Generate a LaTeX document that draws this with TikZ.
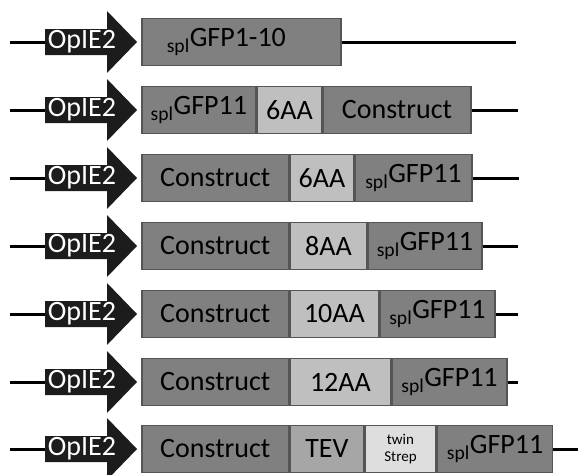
\documentclass[tikz,border=0pt]{standalone}
\usepackage{fontspec}
\setmainfont{Carlito}
\usetikzlibrary{positioning}

\definecolor{promfill}{HTML}{1C1C1C}
\definecolor{boxedge}{HTML}{555555}
\definecolor{gfpfill}{HTML}{808080}
\definecolor{linkfill}{HTML}{BFBFBF}
\definecolor{tevfill}{HTML}{A6A6A6}
\definecolor{strepfill}{HTML}{DEDEDE}

\begin{document}
\begin{tikzpicture}[x=1pt, y=-1pt,
    dna/.style={line width=3pt, black},
    part/.style={draw=boxedge, line width=1.6pt, minimum height=47pt, inner sep=0pt, text=black, font=\fontsize{28}{30}\selectfont},
    gfp/.style={part, fill=gfpfill},
    linker/.style={part, fill=linkfill},
    promtext/.style={text=white, inner sep=0pt, font=\fontsize{28}{30}\selectfont}]
\useasboundingbox (0,0) rectangle (578,474);

% row 1: splGFP1-10
\fill[promfill] (45,29) -- (107,29) -- (107,11) -- (137,42) -- (107,73) -- (107,55) -- (45,55) -- cycle;
\node[promtext] (p1) at (82,42) {OpIE2};
\coordinate (s1) at (10,42);
\coordinate (t1) at (45,42);
\coordinate (e1) at (516,42);
\node[gfp, anchor=west, text width=149pt, inner xsep=25pt, align=left] (r1a) at (141,42) {\textsubscript{spl}GFP1-10};
\draw[dna] (s1) -- (t1);
\draw[dna] (r1a) -- (e1);

% row 2: splGFP11 - 6AA - Construct
\fill[promfill] (45,97) -- (107,97) -- (107,79) -- (137,110) -- (107,141) -- (107,123) -- (45,123) -- cycle;
\node[promtext] (p2) at (82,110) {OpIE2};
\coordinate (s2) at (10,110);
\coordinate (t2) at (45,110);
\coordinate (e2) at (518,110);
\node[gfp, anchor=west, minimum width=114pt] (r2a) at (141,110) {\textsubscript{spl}GFP11};
\node[linker, minimum width=64pt, right=0pt of r2a] (r2b) {6AA};
\node[gfp, minimum width=148pt, right=0pt of r2b] (r2c) {Construct};
\draw[dna] (s2) -- (t2);
\draw[dna] (r2c) -- (e2);

% row 3: Construct - 6AA - splGFP11
\fill[promfill] (45,165) -- (107,165) -- (107,147) -- (137,178) -- (107,209) -- (107,191) -- (45,191) -- cycle;
\node[promtext] (p3) at (82,178) {OpIE2};
\coordinate (s3) at (10,178);
\coordinate (t3) at (45,178);
\coordinate (e3) at (519,178);
\node[gfp, anchor=west, minimum width=147pt] (r3a) at (141,178) {Construct};
\node[linker, minimum width=63pt, right=0pt of r3a] (r3b) {6AA};
\node[gfp, minimum width=117pt, right=0pt of r3b] (r3c) {\textsubscript{spl}GFP11};
\draw[dna] (s3) -- (t3);
\draw[dna] (r3c) -- (e3);

% row 4: Construct - 8AA - splGFP11
\fill[promfill] (45,233) -- (107,233) -- (107,215) -- (137,246) -- (107,277) -- (107,259) -- (45,259) -- cycle;
\node[promtext] (p4) at (82,246) {OpIE2};
\coordinate (s4) at (10,246);
\coordinate (t4) at (45,246);
\coordinate (e4) at (518,246);
\node[gfp, anchor=west, minimum width=147pt] (r4a) at (141,246) {Construct};
\node[linker, minimum width=76pt, right=0pt of r4a] (r4b) {8AA};
\node[gfp, minimum width=114pt, right=0pt of r4b] (r4c) {\textsubscript{spl}GFP11};
\draw[dna] (s4) -- (t4);
\draw[dna] (r4c) -- (e4);

% row 5: Construct - 10AA - splGFP11
\fill[promfill] (45,301) -- (107,301) -- (107,283) -- (137,314) -- (107,345) -- (107,327) -- (45,327) -- cycle;
\node[promtext] (p5) at (82,314) {OpIE2};
\coordinate (s5) at (10,314);
\coordinate (t5) at (45,314);
\coordinate (e5) at (518,314);
\node[gfp, anchor=west, minimum width=147pt] (r5a) at (141,314) {Construct};
\node[linker, minimum width=88pt, right=0pt of r5a] (r5b) {10AA};
\node[gfp, minimum width=115pt, right=0pt of r5b] (r5c) {\textsubscript{spl}GFP11};
\draw[dna] (s5) -- (t5);
\draw[dna] (r5c) -- (e5);

% row 6: Construct - 12AA - splGFP11
\fill[promfill] (45,369) -- (107,369) -- (107,351) -- (137,382) -- (107,413) -- (107,395) -- (45,395) -- cycle;
\node[promtext] (p6) at (82,382) {OpIE2};
\coordinate (s6) at (10,382);
\coordinate (t6) at (45,382);
\coordinate (e6) at (518,382);
\node[gfp, anchor=west, minimum width=147pt] (r6a) at (141,382) {Construct};
\node[linker, minimum width=100pt, right=0pt of r6a] (r6b) {12AA};
\node[gfp, minimum width=115pt, right=0pt of r6b] (r6c) {\textsubscript{spl}GFP11};
\draw[dna] (s6) -- (t6);
\draw[dna] (r6c) -- (e6);

% row 7: Construct - TEV - twin Strep - splGFP11
\fill[promfill] (45,436) -- (107,436) -- (107,418) -- (137,449) -- (107,480) -- (107,462) -- (45,462) -- cycle;
\node[promtext] (p7) at (82,449) {OpIE2};
\coordinate (s7) at (10,449);
\coordinate (t7) at (45,449);
\coordinate (e7) at (582,449);
\node[gfp, anchor=west, minimum width=147pt] (r7a) at (141,449) {Construct};
\node[part, fill=tevfill, minimum width=73pt, right=0pt of r7a] (r7b) {TEV};
\node[part, fill=strepfill, minimum width=71pt, align=center, font=\fontsize{15}{17}\selectfont, right=0pt of r7b] (r7c) {twin\\Strep};
\node[gfp, minimum width=115pt, right=0pt of r7c] (r7d) {\textsubscript{spl}GFP11};
\draw[dna] (s7) -- (t7);
\draw[dna] (r7d) -- (e7);

\end{tikzpicture}
\end{document}
